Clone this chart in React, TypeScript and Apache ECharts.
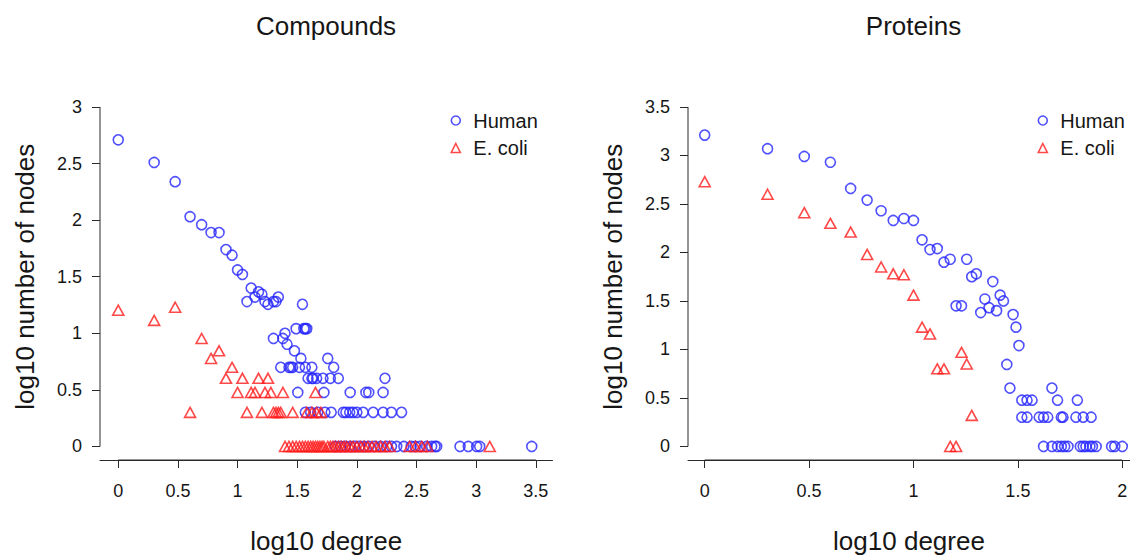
import React, { useEffect, useRef } from "react";
import * as echarts from "echarts";

// ---------- data (log10 degree, log10 number of nodes) ----------
const compoundsHuman: [number, number][] = [
  [0, 2.71], [0.301, 2.51], [0.477, 2.34], [0.602, 2.03], [0.699, 1.96],
  [0.778, 1.89], [0.845, 1.89], [0.903, 1.74], [0.954, 1.69], [1.0, 1.56],
  [1.041, 1.52], [1.114, 1.4], [1.176, 1.366], [1.204, 1.345], [1.146, 1.32],
  [1.079, 1.28], [1.23, 1.28], [1.255, 1.256], [1.301, 1.28], [1.322, 1.28],
  [1.342, 1.32], [1.544, 1.256],
  [1.301, 0.954], [1.38, 0.954], [1.398, 1.0], [1.415, 0.903],
  [1.491, 1.041], [1.556, 1.041], [1.568, 1.041], [1.58, 1.041],
  [1.477, 0.845], [1.531, 0.778], [1.756, 0.778], [1.806, 0.699],
  [1.362, 0.699], [1.431, 0.699], [1.447, 0.699], [1.462, 0.699], [1.519, 0.699], [1.568, 0.699], [1.623, 0.699],
  [1.591, 0.602], [1.623, 0.602], [1.633, 0.602], [1.663, 0.602], [1.716, 0.602], [1.778, 0.602], [1.845, 0.602], [2.236, 0.602],
  [1.505, 0.477], [1.724, 0.477], [1.944, 0.477], [2.076, 0.477], [2.1, 0.477], [2.22, 0.477],
  [1.568, 0.301], [1.613, 0.301], [1.672, 0.301], [1.732, 0.301], [1.785, 0.301], [1.886, 0.301],
  [1.908, 0.301], [1.94, 0.301], [1.968, 0.301], [2.0, 0.301], [2.053, 0.301], [2.137, 0.301],
  [2.22, 0.301], [2.29, 0.301], [2.375, 0.301],
  [1.82, 0], [1.863, 0], [1.903, 0], [1.944, 0], [1.982, 0], [2.021, 0], [2.061, 0], [2.1, 0],
  [2.149, 0], [2.199, 0], [2.25, 0], [2.29, 0], [2.334, 0], [2.394, 0], [2.455, 0], [2.49, 0],
  [2.53, 0], [2.585, 0], [2.627, 0], [2.655, 0], [2.669, 0], [2.865, 0], [2.934, 0], [3.004, 0],
  [3.03, 0], [3.466, 0],
];

const compoundsEcoli: [number, number][] = [
  [0, 1.204], [0.301, 1.114], [0.477, 1.23], [0.602, 0.301], [0.699, 0.954],
  [0.778, 0.778], [0.845, 0.845], [0.903, 0.602], [0.954, 0.699], [1.041, 0.602],
  [1.176, 0.602], [1.255, 0.602],
  [1.0, 0.477], [1.114, 0.477], [1.146, 0.477], [1.23, 0.477], [1.279, 0.477], [1.38, 0.477], [1.653, 0.477],
  [1.079, 0.301], [1.204, 0.301], [1.301, 0.301], [1.322, 0.301], [1.342, 0.301], [1.362, 0.301],
  [1.462, 0.301], [1.58, 0.301], [1.623, 0.301], [1.663, 0.301], [1.699, 0.301],
  [1.398, 0], [1.431, 0], [1.462, 0], [1.491, 0], [1.519, 0], [1.544, 0], [1.568, 0], [1.591, 0],
  [1.613, 0], [1.633, 0], [1.653, 0], [1.672, 0], [1.69, 0], [1.708, 0], [1.724, 0], [1.756, 0],
  [1.778, 0], [1.799, 0], [1.82, 0], [1.845, 0], [1.869, 0], [1.892, 0], [1.914, 0], [1.944, 0],
  [1.968, 0], [2.0, 0], [2.033, 0], [2.061, 0], [2.093, 0], [2.127, 0], [2.161, 0], [2.199, 0],
  [2.236, 0], [2.274, 0], [2.442, 0], [2.491, 0], [2.544, 0], [2.591, 0], [3.114, 0],
];

const proteinsHuman: [number, number][] = [
  [0, 3.21], [0.301, 3.07], [0.477, 2.99], [0.602, 2.93], [0.699, 2.66],
  [0.778, 2.54], [0.845, 2.43], [0.903, 2.33], [0.954, 2.35], [1.0, 2.33],
  [1.041, 2.13], [1.079, 2.03], [1.114, 2.04], [1.146, 1.9], [1.176, 1.93],
  [1.255, 1.93], [1.279, 1.75], [1.301, 1.78], [1.38, 1.7], [1.204, 1.45],
  [1.23, 1.45], [1.342, 1.52], [1.322, 1.38], [1.362, 1.43], [1.398, 1.4],
  [1.415, 1.56], [1.431, 1.5], [1.477, 1.36], [1.491, 1.23], [1.505, 1.04],
  [1.447, 0.845], [1.462, 0.602], [1.519, 0.477], [1.544, 0.477], [1.568, 0.477],
  [1.663, 0.602], [1.69, 0.477], [1.785, 0.477],
  [1.519, 0.301], [1.544, 0.301], [1.602, 0.301], [1.623, 0.301], [1.643, 0.301],
  [1.708, 0.301], [1.716, 0.301], [1.778, 0.301], [1.813, 0.301], [1.851, 0.301],
  [1.623, 0], [1.663, 0], [1.69, 0], [1.708, 0], [1.724, 0], [1.74, 0], [1.799, 0],
  [1.813, 0], [1.826, 0], [1.845, 0], [1.857, 0], [1.875, 0], [1.949, 0], [1.964, 0], [2.0, 0],
];

const proteinsEcoli: [number, number][] = [
  [0, 2.73], [0.301, 2.6], [0.477, 2.41], [0.602, 2.3], [0.699, 2.21],
  [0.778, 1.98], [0.845, 1.85], [0.903, 1.78], [0.954, 1.77], [1.0, 1.56],
  [1.041, 1.23], [1.079, 1.16], [1.114, 0.8], [1.146, 0.8], [1.23, 0.97],
  [1.255, 0.85], [1.279, 0.32], [1.176, 0], [1.204, 0],
];

const compoundsXTicks = [0, 0.5, 1, 1.5, 2, 2.5, 3, 3.5];
const compoundsYTicks = [0, 0.5, 1, 1.5, 2, 2.5, 3];
const proteinsXTicks = [0, 0.5, 1, 1.5, 2];
const proteinsYTicks = [0, 0.5, 1, 1.5, 2, 2.5, 3, 3.5];

const panelTitles = ["Compounds", "Proteins"];
const seriesNames = ["Human", "E. coli"];
const xTitle = "log10 degree";
const yTitle = "log10 number of nodes";

// ---------- styling ----------
const BLUE = "#2424ff";
const RED = "#ff1c1c";
const AXIS = "#2a2a2a";
const TEXT = "#161616";
const FONT = "'Liberation Sans', Arial, Helvetica, sans-serif";

// axis ranges (R style: data range extended 4%; right panel cut at the page edge)
const C_XMIN = -0.153, C_XMAX = 3.64, C_YMIN = -0.12, C_YMAX = 3.12;
const P_XMIN = -0.08, P_XMAX = 2.037, P_YMIN = -0.14, P_YMAX = 3.64;

const fmt = (v: number) => String(v);

function xAxis(gridIndex: number, min: number, max: number, ticks: number[]) {
  return {
    type: "value", gridIndex, min, max,
    axisLine: { show: true, onZero: false, lineStyle: { color: AXIS, width: 1 } },
    axisTick: { show: true, customValues: ticks, length: 8, lineStyle: { color: AXIS, width: 1 } },
    axisLabel: { show: true, customValues: ticks, margin: 22, fontSize: 18, color: TEXT, fontFamily: FONT, formatter: fmt },
    splitLine: { show: false },
    name: xTitle, nameLocation: "middle", nameGap: 68,
    nameTextStyle: { fontSize: 26, lineHeight: 26, color: TEXT, fontFamily: FONT },
  };
}
function yAxis(gridIndex: number, min: number, max: number, ticks: number[]) {
  return {
    type: "value", gridIndex, min, max,
    axisLine: { show: false, onZero: false },
    axisTick: { show: true, customValues: ticks, length: 8, lineStyle: { color: AXIS, width: 1 } },
    axisLabel: { show: true, customValues: ticks, margin: 18, fontSize: 18, color: TEXT, fontFamily: FONT, formatter: fmt },
    splitLine: { show: false },
    name: yTitle, nameLocation: "middle", nameGap: 62,
    nameTextStyle: { fontSize: 26, lineHeight: 26, color: TEXT, fontFamily: FONT },
  };
}

// R-style axis lines: they run only from the first to the last tick
function axisLineSeries(axisIndex: number, xmin: number, ymin: number, xTicks: number[], yTicks: number[]) {
  const base = {
    type: "line", xAxisIndex: axisIndex, yAxisIndex: axisIndex, symbol: "none", silent: true,
    clip: false, lineStyle: { color: AXIS, width: 1 },
  };
  return [
    { ...base, name: "x-axis-line", data: [[xTicks[0], ymin], [xTicks[xTicks.length - 1], ymin]] },
    { ...base, name: "y-axis-line", data: [[xmin, yTicks[0]], [xmin, yTicks[yTicks.length - 1]]] },
  ];
}

const humanStyle = { color: "rgba(0,0,0,0)", borderColor: BLUE, borderWidth: 1.6 };
const ecoliStyle = { color: "rgba(0,0,0,0)", borderColor: RED, borderWidth: 1.6 };

function legend(left: number) {
  return {
    orient: "vertical", left, top: 109.5, padding: 0,
    itemWidth: 9, itemHeight: 9, itemGap: 5.5, selectedMode: false,
    textStyle: { fontSize: 20, lineHeight: 22, color: TEXT, fontFamily: FONT, padding: [0, 0, 0, 8] },
    data: [
      { name: seriesNames[0], icon: "circle", itemStyle: humanStyle },
      { name: seriesNames[1], icon: "triangle", itemStyle: ecoliStyle },
    ],
  };
}

export default function App() {
  const ref = useRef<HTMLDivElement>(null);
  useEffect(() => {
    if (!ref.current) return;
    const chart = echarts.init(ref.current, undefined, { renderer: "svg" });
    chart.setOption({
      animation: false,
      textStyle: { fontFamily: FONT },
      title: [
        { text: panelTitles[0], left: 326, top: 11, textAlign: "center", padding: 0,
          textStyle: { fontSize: 26, fontWeight: "normal", color: TEXT, fontFamily: FONT, lineHeight: 30 } },
        { text: panelTitles[1], left: 913.5, top: 11, textAlign: "center", padding: 0,
          textStyle: { fontSize: 26, fontWeight: "normal", color: TEXT, fontFamily: FONT, lineHeight: 30 } },
      ],
      legend: [legend(450.5), legend(1037.5)],
      grid: [
        { left: 100, top: 93.4, width: 452.5, bottom: 97, containLabel: false, outerBoundsMode: "none" },
        { left: 688, top: 93.4, width: 442, bottom: 97, containLabel: false, outerBoundsMode: "none" },
      ],
      xAxis: [
        xAxis(0, C_XMIN, C_XMAX, compoundsXTicks),
        xAxis(1, P_XMIN, P_XMAX, proteinsXTicks),
      ],
      yAxis: [
        yAxis(0, C_YMIN, C_YMAX, compoundsYTicks),
        yAxis(1, P_YMIN, P_YMAX, proteinsYTicks),
      ],
      series: [
        ...axisLineSeries(0, C_XMIN, C_YMIN, compoundsXTicks, compoundsYTicks),
        ...axisLineSeries(1, P_XMIN, P_YMIN, proteinsXTicks, proteinsYTicks),
        { name: seriesNames[0], type: "scatter", xAxisIndex: 0, yAxisIndex: 0, symbol: "circle", symbolSize: 10,
          clip: false, itemStyle: humanStyle, data: compoundsHuman },
        { name: seriesNames[1], type: "scatter", xAxisIndex: 0, yAxisIndex: 0, symbol: "triangle", symbolSize: [11, 10],
          clip: false, itemStyle: ecoliStyle, data: compoundsEcoli },
        { name: seriesNames[0], type: "scatter", xAxisIndex: 1, yAxisIndex: 1, symbol: "circle", symbolSize: 10,
          clip: false, itemStyle: humanStyle, data: proteinsHuman },
        { name: seriesNames[1], type: "scatter", xAxisIndex: 1, yAxisIndex: 1, symbol: "triangle", symbolSize: [11, 10],
          clip: false, itemStyle: ecoliStyle, data: proteinsEcoli },
      ],
    });
    return () => chart.dispose();
  }, []);
  return (
    <div
      ref={ref}
      style={{ position: "fixed", left: 0, top: 0, width: 1130, height: 557, background: "#fff" }}
    />
  );
}
